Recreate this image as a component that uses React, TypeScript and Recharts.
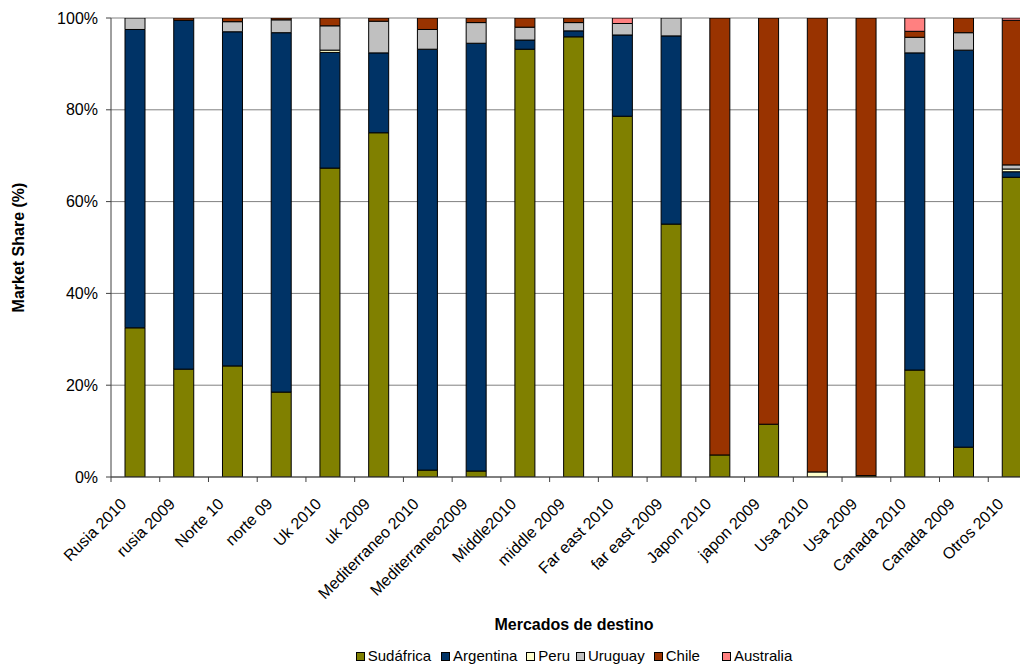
import React from 'react';
import { BarChart, Bar, XAxis, YAxis, CartesianGrid, Legend, Label } from 'recharts';

const categories = [
  'Rusia 2010', 'rusia 2009', 'Norte 10', 'norte 09', 'Uk 2010', 'uk 2009',
  'Mediterraneo 2010', 'Mediterraneo2009', 'Middle2010', 'middle 2009',
  'Far east 2010', 'far east 2009', 'Japon  2010', 'japon 2009', 'Usa 2010',
  'Usa 2009', 'Canada 2010', 'Canada 2009', 'Otros 2010',
];

const sudafrica = [32.5, 23.5, 24.2, 18.5, 67.3, 75, 1.5, 1.3, 93.2, 95.9, 78.6, 55.1, 4.8, 11.5, 0, 0.3, 23.3, 6.5, 65.3];
const argentina = [65, 76, 72.8, 78.3, 25.2, 17.4, 91.7, 93.2, 2, 1.3, 17.7, 41, 0, 0, 0, 0, 69.1, 86.5, 1.2];
const peru = [0, 0, 0, 0, 0.5, 0, 0, 0, 0, 0, 0, 0, 0, 0, 1.1, 0, 0, 0, 0.6];
const uruguay = [2.5, 0, 2.2, 2.8, 5.3, 6.9, 4.3, 4.5, 2.8, 1.8, 2.5, 3.9, 0, 0, 0, 0, 3.4, 3.8, 0.9];
const chile = [0, 0.5, 0.8, 0.4, 1.7, 0.7, 2.5, 1, 2, 1, 0, 0, 95.2, 88.5, 98.9, 99.7, 1.3, 3.2, 31.5];
const australia = [0, 0, 0, 0, 0, 0, 0, 0, 0, 0, 1.2, 0, 0, 0, 0, 0, 2.9, 0, 0.5];

const yTicks = [0, 20, 40, 60, 80, 100];

const seriesDefs = [
  { key: 'Sudáfrica', values: sudafrica, color: '#808000', gap: 10 },
  { key: 'Argentina', values: argentina, color: '#003366', gap: 9 },
  { key: 'Peru', values: peru, color: '#FFFFCC', gap: 6 },
  { key: 'Uruguay', values: uruguay, color: '#C0C0C0', gap: 9 },
  { key: 'Chile', values: chile, color: '#993300', gap: 22 },
  { key: 'Australia', values: australia, color: '#FF8080', gap: 0 },
];

const data = categories.map((name, i) => {
  const row: Record<string, any> = { name };
  seriesDefs.forEach((s) => {
    row[s.key] = s.values[i];
  });
  return row;
});

const FONT = '"Liberation Sans", Arial, sans-serif';
const CHART_W = 1040;
const CHART_H = 656;
const YAXIS_W = 103;
const MARGIN = { top: 10, right: 11, bottom: 0, left: 0 };
const PLOT_W = CHART_W - YAXIS_W - MARGIN.right - MARGIN.left;
const HALF_BAND = PLOT_W / categories.length / 2;

const XTick = (props: any) => {
  const { x, y, payload, index } = props;
  return (
    <g>
      <line x1={x - HALF_BAND} x2={x - HALF_BAND} y1={y} y2={y + 5} stroke="#404040" />
      {index === categories.length - 1 && (
        <line x1={x + HALF_BAND} x2={x + HALF_BAND} y1={y} y2={y + 5} stroke="#404040" />
      )}
      <g transform={`translate(${x - 8},${y + 28})`}>
        <text x={0} y={0} textAnchor="end" transform="rotate(-45)" fontSize={16} fontFamily={FONT} fill="#000">
          {payload.value}
        </text>
      </g>
    </g>
  );
};

const LegendContent = () => (
  <div
    style={{
      display: 'flex',
      justifyContent: 'center',
      fontFamily: FONT,
      fontSize: 15,
      lineHeight: '16px',
      height: 16,
      color: '#000',
    }}
  >
    {seriesDefs.map((s) => (
      <span key={s.key} style={{ display: 'flex', alignItems: 'center', marginRight: s.gap }}>
        <span
          style={{
            display: 'inline-block',
            width: 7,
            height: 7,
            background: s.color,
            border: '1px solid #000',
            marginRight: 3,
          }}
        />
        {s.key}
      </span>
    ))}
  </div>
);

export default function App() {
  return (
    <div style={{ width: 1020, height: 656, overflow: 'hidden' }}>
      <BarChart width={CHART_W} height={CHART_H} data={data} margin={MARGIN} barSize={20}>
        <CartesianGrid vertical={false} stroke="#808080" />
        <XAxis
          dataKey="name"
          interval={0}
          height={171}
          tickSize={0}
          tickMargin={0}
          tickLine={false}
          tick={<XTick />}
          stroke="#404040"
        >
          <Label
            content={(p: any) => {
              const vb = p.viewBox;
              return (
                <text
                  x={vb.x + vb.width / 2}
                  y={vb.y + 153}
                  textAnchor="middle"
                  fontSize={16}
                  fontWeight="bold"
                  fontFamily={FONT}
                  fill="#000"
                >
                  Mercados de destino
                </text>
              );
            }}
          />
        </XAxis>
        <YAxis
          width={YAXIS_W}
          domain={[0, 100]}
          ticks={yTicks}
          allowDataOverflow
          tickFormatter={(v: number) => `${v}%`}
          tickSize={5}
          tickMargin={8}
          stroke="#404040"
          tick={{ fontSize: 16, fontFamily: FONT, fill: '#000' }}
        >
          <Label
            content={(p: any) => {
              const vb = p.viewBox;
              const cx = 16;
              const cy = vb.y + vb.height / 2;
              return (
                <text
                  x={cx}
                  y={cy}
                  textAnchor="middle"
                  transform={`rotate(-90, ${cx}, ${cy})`}
                  fontSize={16}
                  fontWeight="bold"
                  fontFamily={FONT}
                  fill="#000"
                >
                  Market Share (%)
                </text>
              );
            }}
          />
        </YAxis>
        <Legend
          verticalAlign="bottom"
          content={<LegendContent />}
          wrapperStyle={{ left: YAXIS_W, width: PLOT_W }}
        />
        {seriesDefs.map((s) => (
          <Bar
            key={s.key}
            dataKey={s.key}
            stackId="a"
            fill={s.color}
            stroke="#000"
            strokeWidth={1}
            isAnimationActive={false}
          />
        ))}
      </BarChart>
    </div>
  );
}
